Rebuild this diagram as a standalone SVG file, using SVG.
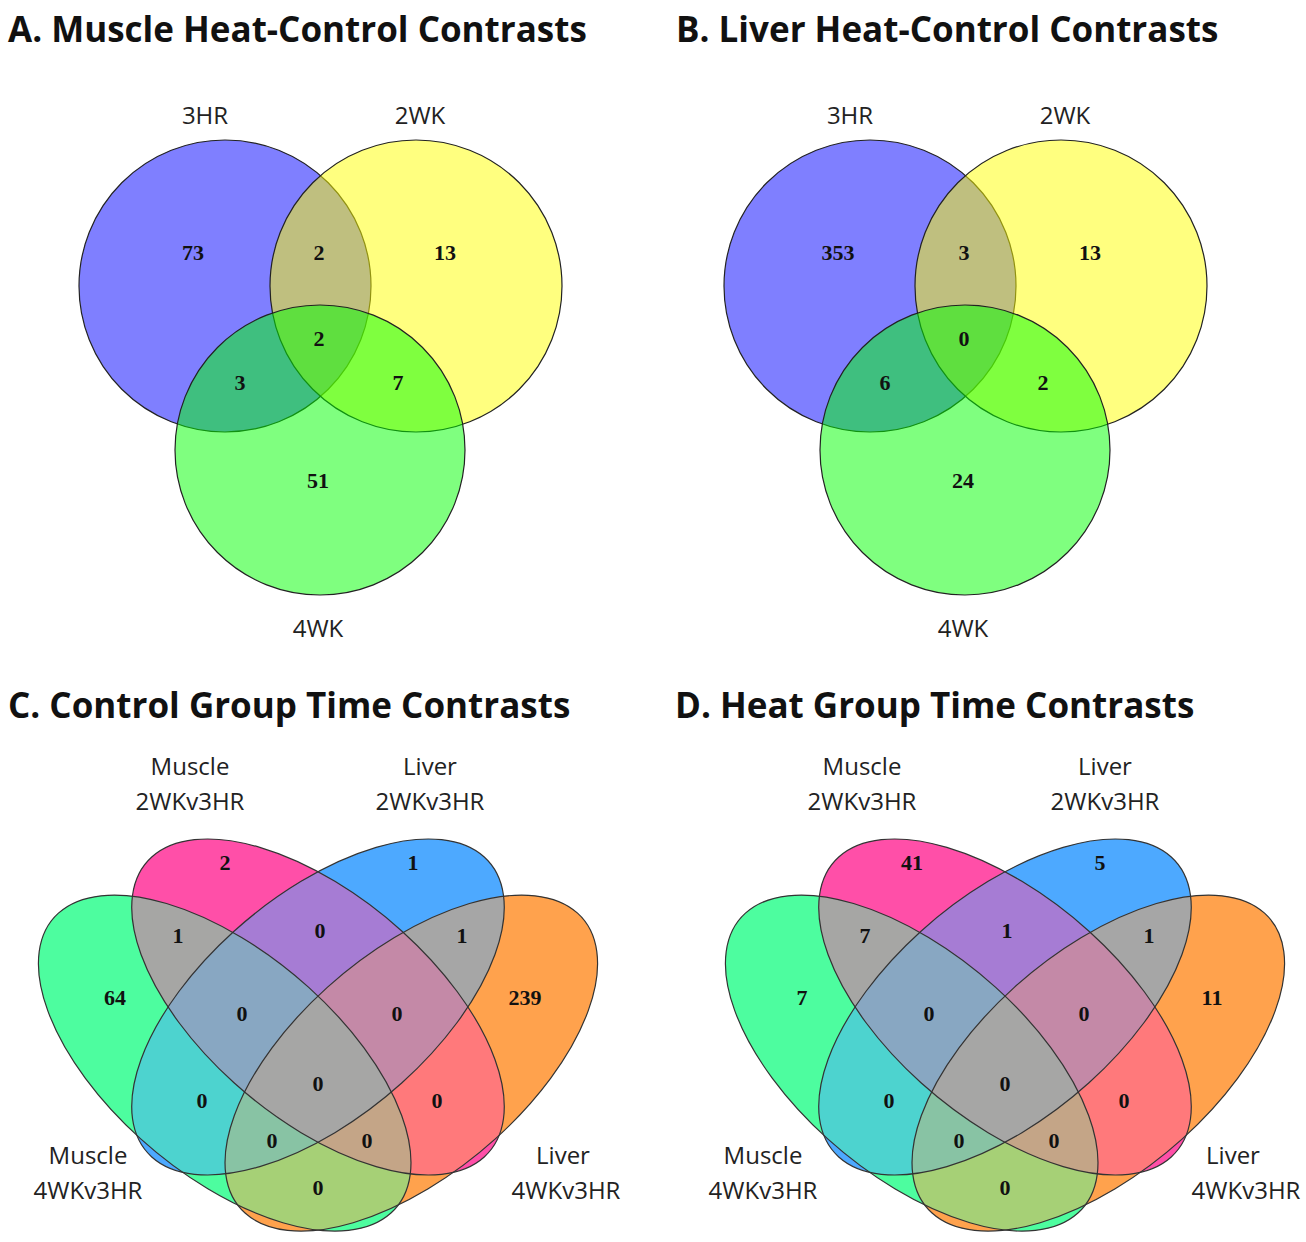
<svg xmlns="http://www.w3.org/2000/svg" xmlns:xlink="http://www.w3.org/1999/xlink" width="1306" height="1242" viewBox="0 0 1306 1242">
<style>
.title{font-family:"Open Sans","Liberation Sans",sans-serif;font-weight:bold;font-size:35px;fill:#111}
.lab{font-family:"Open Sans","Liberation Sans",sans-serif;font-size:24px;fill:#222;text-anchor:middle}
.num{font-family:"Liberation Serif",serif;font-weight:bold;font-size:22px;fill:#111;text-anchor:middle}
.c3{fill-opacity:0.5;stroke:#222;stroke-width:1.2}
.out{fill:none;stroke:#333;stroke-width:1.2;vector-effect:non-scaling-stroke}
</style>
<defs>
<clipPath id="cG"><ellipse transform="translate(318,1007) scale(622,561) translate(-0.15,0.1) rotate(45)" rx="0.378" ry="0.191"/></clipPath>
<clipPath id="cP"><ellipse transform="translate(318,1007) scale(622,561) rotate(45)" rx="0.378" ry="0.191"/></clipPath>
<clipPath id="cB"><ellipse transform="translate(318,1007) scale(622,561) rotate(-45)" rx="0.378" ry="0.191"/></clipPath>
<clipPath id="cO"><ellipse transform="translate(318,1007) scale(622,561) translate(0.15,0.1) rotate(-45)" rx="0.378" ry="0.191"/></clipPath>
<g id="quad">
<g clip-path="url(#cG)"><rect x="0" y="820" width="660" height="420" fill="#4dfd9f"/></g>
<g clip-path="url(#cP)"><rect x="0" y="820" width="660" height="420" fill="#ff4fa8"/></g>
<g clip-path="url(#cB)"><rect x="0" y="820" width="660" height="420" fill="#4da9ff"/></g>
<g clip-path="url(#cO)"><rect x="0" y="820" width="660" height="420" fill="#ffa24d"/></g>
<g clip-path="url(#cG)"><g clip-path="url(#cP)"><rect x="0" y="820" width="660" height="420" fill="#a6a6a4"/></g></g>
<g clip-path="url(#cG)"><g clip-path="url(#cB)"><rect x="0" y="820" width="660" height="420" fill="#4dd3cf"/></g></g>
<g clip-path="url(#cG)"><g clip-path="url(#cO)"><rect x="0" y="820" width="660" height="420" fill="#a6d076"/></g></g>
<g clip-path="url(#cP)"><g clip-path="url(#cB)"><rect x="0" y="820" width="660" height="420" fill="#a67cd4"/></g></g>
<g clip-path="url(#cP)"><g clip-path="url(#cO)"><rect x="0" y="820" width="660" height="420" fill="#ff797b"/></g></g>
<g clip-path="url(#cB)"><g clip-path="url(#cO)"><rect x="0" y="820" width="660" height="420" fill="#a6a6a6"/></g></g>
<g clip-path="url(#cG)"><g clip-path="url(#cP)"><g clip-path="url(#cB)"><rect x="0" y="820" width="660" height="420" fill="#88a7c2"/></g></g></g>
<g clip-path="url(#cG)"><g clip-path="url(#cP)"><g clip-path="url(#cO)"><rect x="0" y="820" width="660" height="420" fill="#c4a587"/></g></g></g>
<g clip-path="url(#cG)"><g clip-path="url(#cB)"><g clip-path="url(#cO)"><rect x="0" y="820" width="660" height="420" fill="#88c3a4"/></g></g></g>
<g clip-path="url(#cP)"><g clip-path="url(#cB)"><g clip-path="url(#cO)"><rect x="0" y="820" width="660" height="420" fill="#c489a7"/></g></g></g>
<g clip-path="url(#cG)"><g clip-path="url(#cP)"><g clip-path="url(#cB)"><g clip-path="url(#cO)"><rect x="0" y="820" width="660" height="420" fill="#a6a6a5"/></g></g></g></g>
<ellipse class="out" transform="translate(318,1007) scale(622,561) translate(-0.15,0.1) rotate(45)" rx="0.378" ry="0.191"/>
<ellipse class="out" transform="translate(318,1007) scale(622,561) rotate(45)" rx="0.378" ry="0.191"/>
<ellipse class="out" transform="translate(318,1007) scale(622,561) rotate(-45)" rx="0.378" ry="0.191"/>
<ellipse class="out" transform="translate(318,1007) scale(622,561) translate(0.15,0.1) rotate(-45)" rx="0.378" ry="0.191"/>
</g>
</defs>
<rect width="1306" height="1242" fill="#fff"/>

<g id="panelA">
<text class="title" x="8" y="42">A. Muscle Heat-Control Contrasts</text>
<circle class="c3" cx="225" cy="286" r="146" fill="#0000ff"/>
<circle class="c3" cx="416" cy="286" r="146" fill="#ffff00"/>
<circle class="c3" cx="320" cy="450" r="145" fill="#00ff00"/>
<text class="lab" x="205" y="124">3HR</text>
<text class="lab" x="420" y="124">2WK</text>
<text class="lab" x="318" y="637">4WK</text>
<text class="num" x="193" y="260">73</text>
<text class="num" x="319" y="260">2</text>
<text class="num" x="445" y="260">13</text>
<text class="num" x="319" y="346">2</text>
<text class="num" x="240" y="390">3</text>
<text class="num" x="398" y="390">7</text>
<text class="num" x="318" y="488">51</text>
</g>

<g id="panelB" transform="translate(645,0)">
<text class="title" x="31" y="42">B. Liver Heat-Control Contrasts</text>
<circle class="c3" cx="225" cy="286" r="146" fill="#0000ff"/>
<circle class="c3" cx="416" cy="286" r="146" fill="#ffff00"/>
<circle class="c3" cx="320" cy="450" r="145" fill="#00ff00"/>
<text class="lab" x="205" y="124">3HR</text>
<text class="lab" x="420" y="124">2WK</text>
<text class="lab" x="318" y="637">4WK</text>
<text class="num" x="193" y="260">353</text>
<text class="num" x="319" y="260">3</text>
<text class="num" x="445" y="260">13</text>
<text class="num" x="319" y="346">0</text>
<text class="num" x="240" y="390">6</text>
<text class="num" x="398" y="390">2</text>
<text class="num" x="318" y="488">24</text>
</g>

<g id="panelC">
<text class="title" x="8" y="718">C. Control Group Time Contrasts</text>
<use xlink:href="#quad"/>
<text class="lab" x="190" y="775">Muscle</text>
<text class="lab" x="190" y="810">2WKv3HR</text>
<text class="lab" x="430" y="775">Liver</text>
<text class="lab" x="430" y="810">2WKv3HR</text>
<text class="lab" x="88" y="1164">Muscle</text>
<text class="lab" x="88" y="1199">4WKv3HR</text>
<text class="lab" x="563" y="1164">Liver</text>
<text class="lab" x="566" y="1199">4WKv3HR</text>
<text class="num" x="225" y="870">2</text>
<text class="num" x="413" y="870">1</text>
<text class="num" x="178" y="943">1</text>
<text class="num" x="320" y="938">0</text>
<text class="num" x="462" y="943">1</text>
<text class="num" x="115" y="1005">64</text>
<text class="num" x="242" y="1021">0</text>
<text class="num" x="397" y="1021">0</text>
<text class="num" x="525" y="1005">239</text>
<text class="num" x="318" y="1091">0</text>
<text class="num" x="202" y="1108">0</text>
<text class="num" x="437" y="1108">0</text>
<text class="num" x="272" y="1148">0</text>
<text class="num" x="367" y="1148">0</text>
<text class="num" x="318" y="1195">0</text>
</g>

<g id="panelD" transform="translate(687,0)">
<text class="title" x="-12" y="718">D. Heat Group Time Contrasts</text>
<use xlink:href="#quad"/>
<text class="lab" x="175" y="775">Muscle</text>
<text class="lab" x="175" y="810">2WKv3HR</text>
<text class="lab" x="418" y="775">Liver</text>
<text class="lab" x="418" y="810">2WKv3HR</text>
<text class="lab" x="76" y="1164">Muscle</text>
<text class="lab" x="76" y="1199">4WKv3HR</text>
<text class="lab" x="546" y="1164">Liver</text>
<text class="lab" x="559" y="1199">4WKv3HR</text>
<text class="num" x="225" y="870">41</text>
<text class="num" x="413" y="870">5</text>
<text class="num" x="178" y="943">7</text>
<text class="num" x="320" y="938">1</text>
<text class="num" x="462" y="943">1</text>
<text class="num" x="115" y="1005">7</text>
<text class="num" x="242" y="1021">0</text>
<text class="num" x="397" y="1021">0</text>
<text class="num" x="525" y="1005">11</text>
<text class="num" x="318" y="1091">0</text>
<text class="num" x="202" y="1108">0</text>
<text class="num" x="437" y="1108">0</text>
<text class="num" x="272" y="1148">0</text>
<text class="num" x="367" y="1148">0</text>
<text class="num" x="318" y="1195">0</text>
</g>
</svg>
